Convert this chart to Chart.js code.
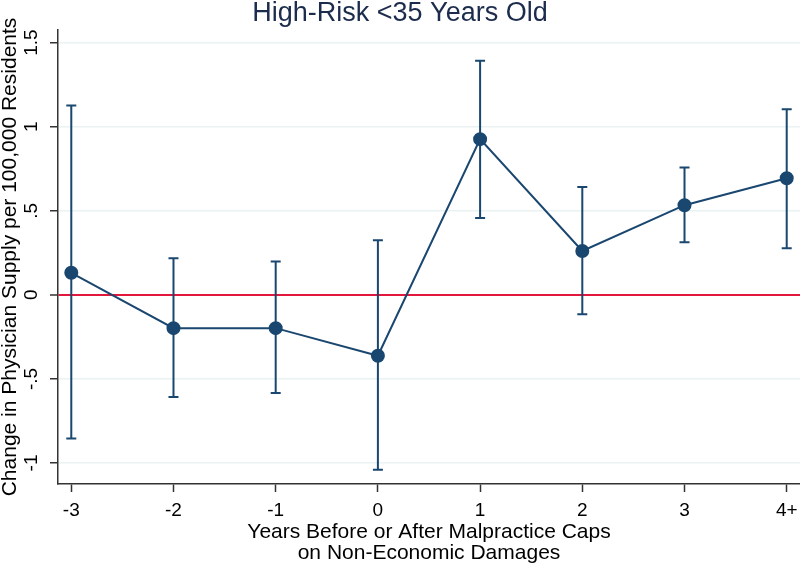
<!DOCTYPE html>
<html>
<head>
<meta charset="utf-8">
<script src="https://cdn.jsdelivr.net/npm/chart.js@4/dist/chart.umd.min.js"></script>
<style>
  html, body { margin: 0; padding: 0; background: #fff; }
  #wrap { width: 800px; height: 564px; }
</style>
</head>
<body>
<div id="wrap"><canvas id="myChart" width="800" height="564"></canvas></div>
<script>
const yearLabels = ['-3', '-2', '-1', '0', '1', '2', '3', '4+'];
const years = [-3, -2, -1, 0, 1, 2, 3, 4];
const estimates = [0.131, -0.198, -0.198, -0.362, 0.926, 0.261, 0.533, 0.693];
const ciLow = [-0.855, -0.607, -0.584, -1.04, 0.457, -0.115, 0.313, 0.277];
const ciHigh = [1.126, 0.218, 0.198, 0.325, 1.392, 0.641, 0.757, 1.103];
const yTicks = [-1, -0.5, 0, 0.5, 1, 1.5];
const yTickLabels = ['-1', '-.5', '0', '.5', '1', '1.5'];

const navy = '#1a476f';
const fontName = "'Liberation Sans', Arial, sans-serif";

// barre di errore (intervalli di confidenza)
const errorBars = {
    id: 'errorBars',
    beforeDatasetsDraw(chart) {
        const ctx = chart.ctx;
        const xs = chart.scales.x;
        const ys = chart.scales.y;
        ctx.save();
        ctx.strokeStyle = navy;
        ctx.lineWidth = 2;
        for (let i = 0; i < years.length; i++) {
            const px = xs.getPixelForValue(years[i]);
            const top = ys.getPixelForValue(ciHigh[i]);
            const bot = ys.getPixelForValue(ciLow[i]);
            ctx.beginPath();
            ctx.moveTo(px, top);
            ctx.lineTo(px, bot);
            ctx.moveTo(px - 5, top);
            ctx.lineTo(px + 5, top);
            ctx.moveTo(px - 5, bot);
            ctx.lineTo(px + 5, bot);
            ctx.stroke();
        }
        ctx.restore();
    }
};

const ctx = document.getElementById('myChart').getContext('2d');
const myChart = new Chart(ctx, {
    type: 'line',
    data: {
        datasets: [{
            label: 'Estimate',
            data: years.map((yr, i) => ({ x: yr, y: estimates[i] })),
            borderColor: navy,
            backgroundColor: navy,
            borderWidth: 2,
            pointRadius: 6,
            pointHoverRadius: 6,
            tension: 0,
            fill: false,
            clip: false
        }]
    },
    options: {
        responsive: false,
        animation: false,
        layout: { autoPadding: false, padding: 0 },
        plugins: {
            legend: { display: false },
            tooltip: { enabled: false },
            title: {
                display: true,
                text: 'High-Risk <35 Years Old',
                color: '#1c2c4c',
                font: { family: fontName, size: 27, weight: 'normal', lineHeight: 1.0 },
                padding: { top: 0, bottom: 3 }
            }
        },
        scales: {
            x: {
                type: 'linear',
                min: -3.13,
                max: 4.13,
                afterBuildTicks: (scale) => {
                    scale.ticks = years.map(v => ({ value: v }));
                },
                afterFit: (scale) => {
                    scale.height = 80;
                    scale.paddingRight = 0;
                    scale.paddingLeft = 0;
                },
                ticks: {
                    color: '#000',
                    font: { family: fontName, size: 19 },
                    padding: 7,
                    maxRotation: 0,
                    autoSkip: false,
                    callback: (v) => yearLabels[years.indexOf(v)]
                },
                grid: {
                    drawOnChartArea: false,
                    drawTicks: true,
                    tickLength: 8,
                    tickColor: '#333',
                    tickWidth: 1.5
                },
                border: { display: true, color: '#333', width: 1.5 },
                title: {
                    display: true,
                    text: ['Years Before or After Malpractice Caps', 'on Non-Economic Damages'],
                    color: '#000',
                    font: { family: fontName, size: 21, lineHeight: 1.0 },
                    padding: { top: 0, bottom: 0 }
                }
            },
            y: {
                min: -1.125,
                max: 1.575,
                afterBuildTicks: (scale) => {
                    scale.ticks = yTicks.map(v => ({ value: v }));
                },
                afterFit: (scale) => { scale.width = 58; },
                ticks: {
                    color: '#000',
                    font: { family: fontName, size: 19 },
                    padding: 5,
                    minRotation: 90,
                    maxRotation: 90,
                    crossAlign: 'center',
                    autoSkip: false,
                    callback: (v) => yTickLabels[yTicks.indexOf(v)]
                },
                grid: {
                    color: (c) => (c.tick && c.tick.value === 0) ? '#e3163c' : '#eaf2f3',
                    lineWidth: (c) => (c.tick && c.tick.value === 0) ? 2 : 1.5,
                    tickLength: 8,
                    tickColor: '#333',
                    tickWidth: 1.5
                },
                border: { display: true, color: '#333', width: 1.5 },
                title: {
                    display: true,
                    text: 'Change in Physician Supply per 100,000 Residents',
                    color: '#000',
                    font: { family: fontName, size: 21, lineHeight: 1.0 },
                    padding: { top: 0, bottom: 0 }
                }
            }
        }
    },
    plugins: [errorBars]
});
</script>
</body>
</html>
